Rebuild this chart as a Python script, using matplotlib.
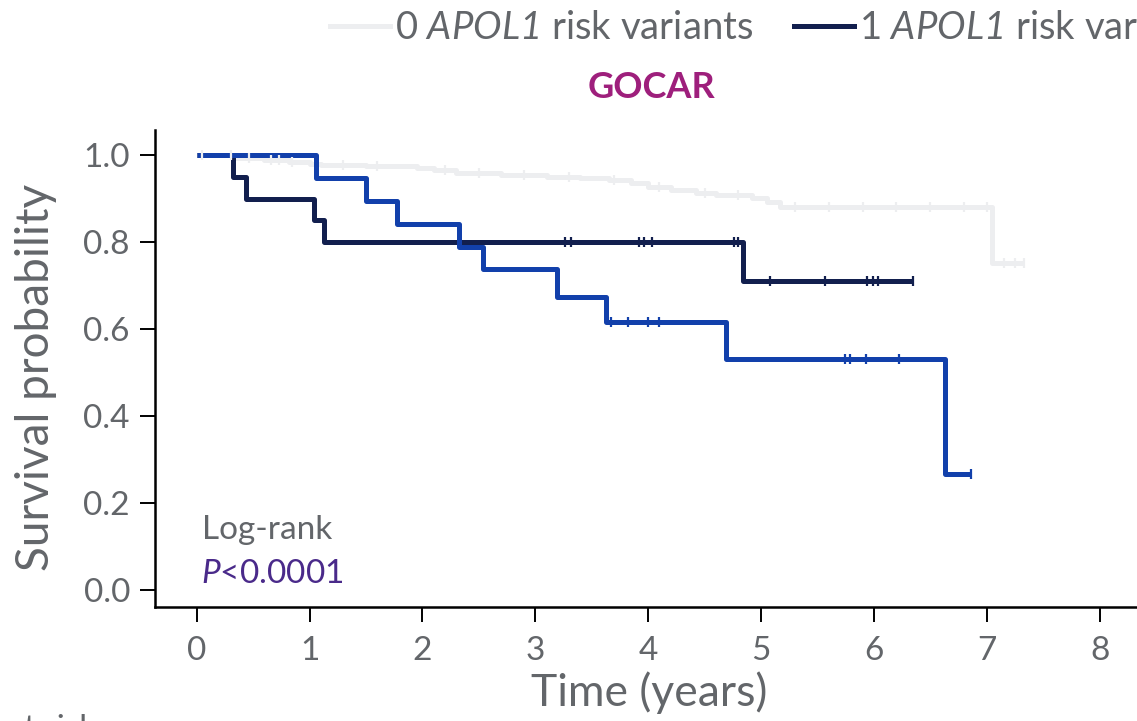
import numpy as np
import matplotlib
matplotlib.use("Agg")
import matplotlib.pyplot as plt
from matplotlib.lines import Line2D

plt.rcParams['font.family'] = ['Lato', 'DejaVu Sans']
plt.rcParams['mathtext.fontset'] = 'custom'
plt.rcParams['mathtext.rm'] = 'Lato'
plt.rcParams['mathtext.it'] = 'Lato:italic'
plt.rcParams['mathtext.sf'] = 'Lato:italic'

# ---- data ----
# 0 APOL1 risk variants
g0_times = [0.0, 0.35, 0.6, 0.82, 1.0, 1.1, 1.5, 1.95, 2.1, 2.3, 2.7, 3.1, 3.4, 3.65,
            3.85, 4.0, 4.2, 4.42, 4.6, 4.92, 5.05, 5.17, 7.05]
g0_surv = [1.0, 0.993, 0.988, 0.984, 0.980, 0.977, 0.974, 0.970, 0.966, 0.958, 0.955,
           0.950, 0.947, 0.942, 0.935, 0.927, 0.920, 0.913, 0.908, 0.902, 0.892, 0.880, 0.752]
g0_end = 7.33
g0_cens = [0.05, 0.3, 0.46, 0.66, 0.73, 0.84, 1.3, 1.6, 2.2, 2.5, 2.9, 3.3, 3.7, 4.1,
           4.5, 4.8, 5.3, 5.6, 5.9, 6.2, 6.5, 6.8, 7.0, 7.15, 7.25, 7.33]

# 1 APOL1 risk variant
g1_times = [0.0, 0.32, 0.44, 1.04, 1.13, 4.84]
g1_surv = [1.0, 0.95, 0.90, 0.85, 0.80, 0.711]
g1_end = 6.35
g1_cens = [3.26, 3.32, 3.92, 3.96, 4.03, 4.76, 4.80, 5.08, 5.57, 5.94, 5.99, 6.04, 6.35]

# 2 APOL1 risk variants
g2_times = [0.0, 1.06, 1.50, 1.77, 2.32, 2.54, 3.19, 3.63, 4.69, 6.63]
g2_surv = [1.0, 0.947, 0.894, 0.842, 0.789, 0.737, 0.674, 0.616, 0.531, 0.266]
g2_end = 6.86
g2_cens = [3.67, 3.82, 4.00, 4.10, 5.74, 5.79, 5.93, 6.22, 6.86]

labels = ['0 $\\mathsf{APOL1}$ risk variants', '1 $\\mathsf{APOL1}$ risk variants',
          '2 $\\mathsf{APOL1}$ risk variants']
colors = ['#EDEEF0', '#121F4E', '#1240AB']
x_ticks = [0, 1, 2, 3, 4, 5, 6, 7, 8]
y_ticks = [0.0, 0.2, 0.4, 0.6, 0.8, 1.0]

TXT = '#63666A'

W, H = 1137, 721
fig = plt.figure(figsize=(W / 100, H / 100), dpi=100)
ax = fig.add_axes([155 / W, (H - 607) / H, (1156 - 155) / W, (607 - 130) / H])

groups = [(g0_times, g0_surv, g0_end, g0_cens),
          (g1_times, g1_surv, g1_end, g1_cens),
          (g2_times, g2_surv, g2_end, g2_cens)]

for i, (t, s, end, c) in enumerate(groups):
    tt = list(t) + [end]
    ss = list(s) + [s[-1]]
    ax.step(tt, ss, where='post', color=colors[i], lw=3.6, zorder=2 + i,
            solid_capstyle='butt')
for i, (t, s, end, c) in enumerate(groups):
    idx = np.searchsorted(np.array(t), np.array(c), side='right') - 1
    cy = np.array(s)[idx]
    ax.plot(c, cy, ls='none', marker='|', ms=7, mew=1.6, color=colors[i], zorder=6)

ax.set_xlim(-0.37, 8.5)
ax.set_ylim(-0.04, 1.058)
ax.set_xticks(x_ticks)
ax.set_yticks(y_ticks)
ax.set_yticklabels([f'{v:.1f}' for v in y_ticks])
for sp in ['top', 'right']:
    ax.spines[sp].set_visible(False)
for sp in ['left', 'bottom']:
    ax.spines[sp].set_linewidth(1.8)
    ax.spines[sp].set_color('black')
ax.tick_params(axis='both', length=11, width=1.4, color='black', labelcolor=TXT,
               labelsize=24)
ax.tick_params(axis='y', pad=7)
ax.tick_params(axis='x', pad=10)

fig.text(36 / W, 1 - 377 / H, 'Survival probability', rotation=90, ha='center',
         va='center', fontsize=33, color=TXT)
fig.text(649 / W, 1 - 693 / H, 'Time (years)', ha='center', va='center',
         fontsize=32, color=TXT)
fig.text(651 / W, 1 - 88 / H, 'GOCAR', ha='center', va='center', fontsize=26,
         fontweight='bold', color='#9E1F7C')
fig.text(202 / W, 1 - 539 / H, 'Log-rank', ha='left', va='baseline', fontsize=24,
         color=TXT)
fig.text(201 / W, 1 - 583 / H, '$\\mathsf{P}$<0.0001', ha='left', va='baseline',
         fontsize=24, color='#4A2A8A')
fig.text(96 / W, 1 - 714 / H, 'Number at risk', ha='right', va='top', fontsize=24,
         color=TXT)

handles = [Line2D([], [], color=c, lw=3.6) for c in colors]
leg = fig.legend(handles, labels, loc='center left', bbox_to_anchor=(330 / W, 1 - 28 / H),
                 ncol=3, frameon=False, fontsize=27.5, handlelength=1.58,
                 handletextpad=0.13, columnspacing=1.05, borderpad=0, borderaxespad=0,
                 labelcolor=TXT)

fig.savefig('out.png', dpi=100)
